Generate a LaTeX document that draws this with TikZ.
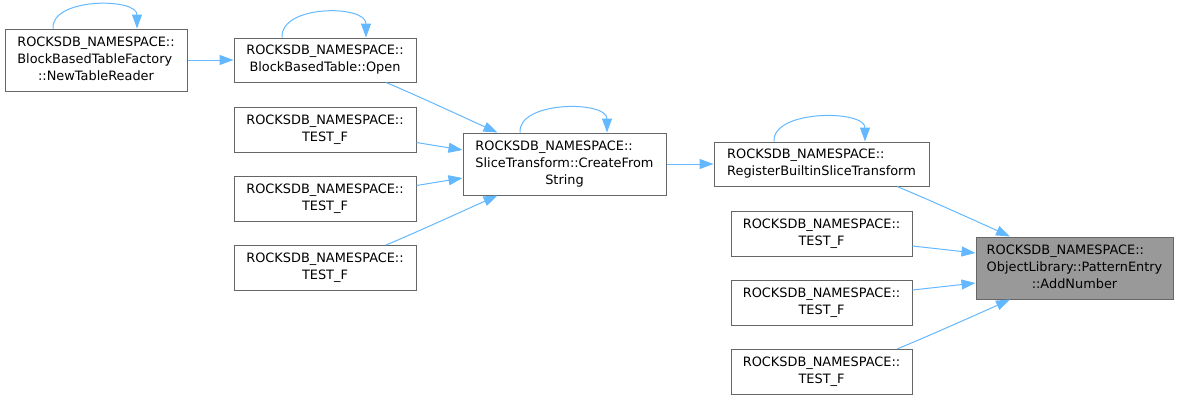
\documentclass[tikz,border=0pt]{standalone}
\usepackage{fontspec}
\setmainfont{DejaVu Sans}
\usetikzlibrary{arrows.meta,calc}
\definecolor{edgec}{RGB}{99,184,255}
\definecolor{bordc}{RGB}{102,102,102}
\definecolor{rootc}{RGB}{153,153,153}
\newcommand\labtwo[2]{\begin{tabular}{@{}l@{}}#1\\\multicolumn{1}{@{}c@{}}{#2}\end{tabular}}
\newcommand\labthree[3]{\begin{tabular}{@{}l@{}}#1\\#2\\\multicolumn{1}{@{}c@{}}{#3}\end{tabular}}
\begin{document}
\begin{tikzpicture}[x=1pt,y=-1pt,
  fnode/.style={draw=bordc,fill=white,line width=1pt,inner sep=0pt,
    font=\fontsize{12.9}{17}\selectfont},
  rootnode/.style={fnode,fill=rootc},
  edge/.style={draw=edgec,line width=1pt,-{Triangle[length=14pt,width=10pt]}}]
\useasboundingbox (0,0) rectangle (1178,400);
\node[fnode,minimum width=182pt,minimum height=62pt] (ntr) at (96,60)
  {\labthree{ROCKSDB\_NAMESPACE::}{BlockBasedTableFactory}{::NewTableReader}};
\node[fnode,minimum width=182pt,minimum height=44pt] (open) at (325,60)
  {\labtwo{ROCKSDB\_NAMESPACE::}{BlockBasedTable::Open}};
\node[fnode,minimum width=182pt,minimum height=45pt] (t1) at (325,129.5)
  {\labtwo{ROCKSDB\_NAMESPACE::}{TEST\_F}};
\node[fnode,minimum width=182pt,minimum height=45pt] (t2) at (325,198.5)
  {\labtwo{ROCKSDB\_NAMESPACE::}{TEST\_F}};
\node[fnode,minimum width=182pt,minimum height=45pt] (t3) at (325,268)
  {\labtwo{ROCKSDB\_NAMESPACE::}{TEST\_F}};
\node[fnode,minimum width=203pt,minimum height=62pt] (cfs) at (564.5,164)
  {\labthree{ROCKSDB\_NAMESPACE::}{SliceTransform::CreateFrom}{String}};
\node[fnode,minimum width=215pt,minimum height=44pt] (reg) at (821.5,164)
  {\labtwo{ROCKSDB\_NAMESPACE::}{RegisterBuiltinSliceTransform}};
\node[rootnode,minimum width=197pt,minimum height=62pt] (add) at (1074.5,268)
  {\labthree{ROCKSDB\_NAMESPACE::}{ObjectLibrary::PatternEntry}{::AddNumber}};
\node[fnode,minimum width=181pt,minimum height=45pt] (ta) at (821.5,233.5)
  {\labtwo{ROCKSDB\_NAMESPACE::}{TEST\_F}};
\node[fnode,minimum width=181pt,minimum height=45pt] (tb) at (821.5,302.5)
  {\labtwo{ROCKSDB\_NAMESPACE::}{TEST\_F}};
\node[fnode,minimum width=181pt,minimum height=45pt] (tc) at (821.5,372)
  {\labtwo{ROCKSDB\_NAMESPACE::}{TEST\_F}};
% edges
\draw[edge] (ntr.east) -- (open.west);
\draw[edge] ($(open.south)+(61,0)$) .. controls ($(open.south)+(90,12)$) and ($(cfs.north)+(-85,-8)$) .. ($(cfs.north)+(-67,0)$);
\draw[edge] ($(t1.east)+(0,13)$) -- ($(cfs.west)+(0,-14)$);
\draw[edge] ($(t2.east)+(0,-13)$) -- ($(cfs.west)+(0,14)$);
\draw[edge] ($(t3.north)+(61,0)$) .. controls ($(t3.north)+(90,-12)$) and ($(cfs.south)+(-85,8)$) .. ($(cfs.south)+(-67,0)$);
\draw[edge] (cfs.east) -- (reg.west);
\draw[edge] ($(reg.south)+(75.5,0)$) .. controls ($(reg.south)+(105,12)$) and ($(add.north)+(-82,-8)$) .. ($(add.north)+(-64.5,0)$);
\draw[edge] ($(ta.east)+(0,12.5)$) -- ($(add.west)+(0,-15)$);
\draw[edge] ($(tb.east)+(0,-12.5)$) -- ($(add.west)+(0,15)$);
\draw[edge] ($(tc.north)+(75.5,0)$) .. controls ($(tc.north)+(105,-12)$) and ($(add.south)+(-82,8)$) .. ($(add.south)+(-64.5,0)$);
% self loops
\coordinate (l1a) at ($(ntr.north)+(-43,0)$);
\coordinate (l1b) at ($(ntr.north)+(41,0)$);
\draw[edge] (l1a) .. controls ($(l1a)+(-2,-31)$) and ($(l1b)+(0,-31)$) .. (l1b);
\coordinate (l2a) at ($(open.north)+(-43,0)$);
\coordinate (l2b) at ($(open.north)+(41,0)$);
\draw[edge] (l2a) .. controls ($(l2a)+(-2,-33)$) and ($(l2b)+(0,-33)$) .. (l2b);
\coordinate (l3a) at ($(cfs.north)+(-44.5,0)$);
\coordinate (l3b) at ($(cfs.north)+(42.5,0)$);
\draw[edge] (l3a) .. controls ($(l3a)+(-2,-32)$) and ($(l3b)+(0,-32)$) .. (l3b);
\coordinate (l4a) at ($(reg.north)+(-47.5,0)$);
\coordinate (l4b) at ($(reg.north)+(43.5,0)$);
\draw[edge] (l4a) .. controls ($(l4a)+(-2,-32)$) and ($(l4b)+(0,-32)$) .. (l4b);
\end{tikzpicture}
\end{document}
